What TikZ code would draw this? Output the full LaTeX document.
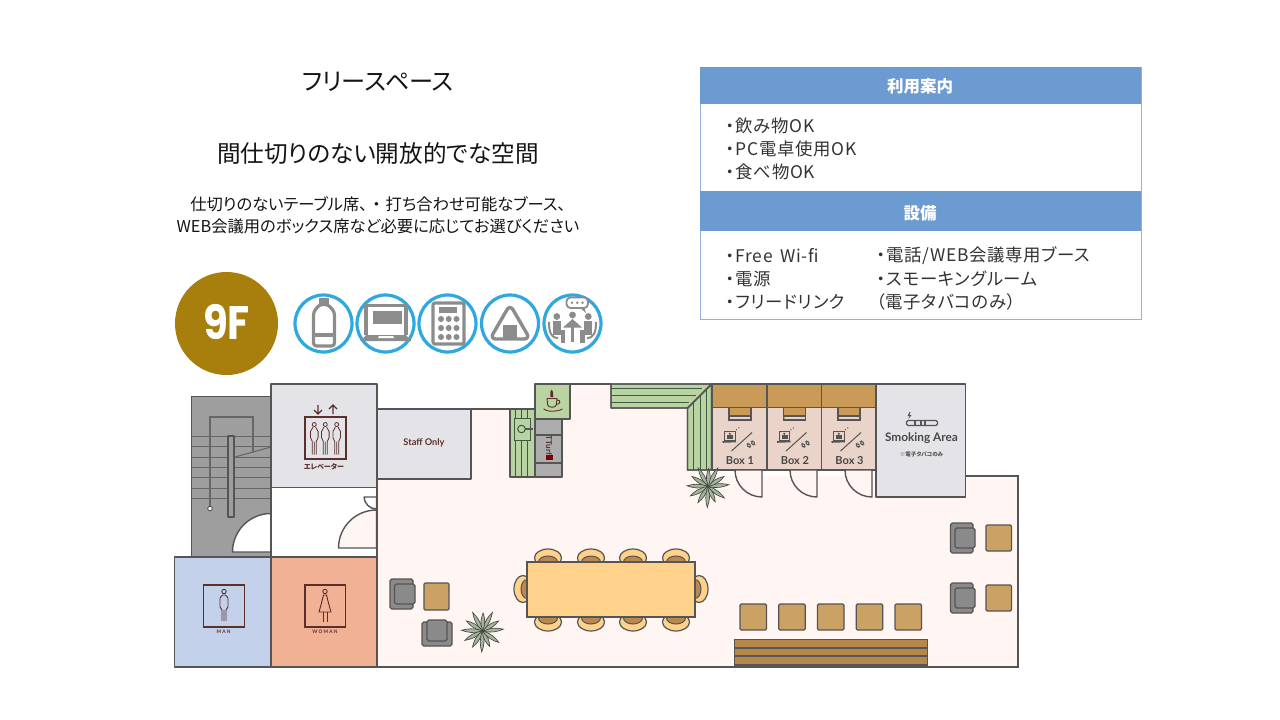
\documentclass[tikz,border=0pt]{standalone}
\usepackage{fontspec}
\setmainfont{Noto Sans CJK JP}
\newfontfamily\jp[RawFeature={+palt}]{Noto Sans CJK JP}
\newfontfamily\jps[RawFeature={+palt},LetterSpace=4]{Noto Sans CJK JP}
\newfontfamily\lat{Lato}
\newfontfamily\latw[LetterSpace=25]{Lato}
\newfontfamily\pop{Poppins}
\newcommand{\fs}[1]{\fontsize{#1}{#1}\selectfont}
\definecolor{wall}{HTML}{555555}
\definecolor{ink}{HTML}{5B2F2B}
\definecolor{floorp}{HTML}{FFF5F2}
\definecolor{greenc}{HTML}{B9D4A2}
\definecolor{greend}{HTML}{3F5B3F}
\definecolor{roomg}{HTML}{E4E4E8}
\definecolor{stairg}{HTML}{9E9E9E}
\definecolor{manb}{HTML}{C3D1EB}
\definecolor{womano}{HTML}{F1B195}
\definecolor{boxp}{HTML}{EAD3C8}
\definecolor{brownt}{HTML}{C99A58}
\definecolor{chairg}{HTML}{8A8A8A}
\definecolor{sqb}{HTML}{CBA264}
\definecolor{tablec}{HTML}{FFD18A}
\definecolor{seatb}{HTML}{B9894F}
\definecolor{benchb}{HTML}{B5874B}
\definecolor{headb}{HTML}{6C9BD2}
\definecolor{frameb}{HTML}{8FB3DC}
\definecolor{gold}{HTML}{A87F0C}
\definecolor{ring}{HTML}{2FA7DF}
\definecolor{icong}{HTML}{8C8C8C}
\definecolor{leafc}{HTML}{A4B59C}
\tikzset{
  wl/.style={draw=wall,line width=1.4pt},
  room/.style={wl,line join=round},
  sqtable/.style={draw=wall,line width=1.2pt,fill=sqb,rounded corners=1.2pt},
  chairout/.style={draw=wall,line width=1.2pt,fill=chairg,rounded corners=1.8pt},
  chairin/.style={draw=wall,line width=1.2pt,fill=chairg,rounded corners=1.8pt},
  seatout/.style={draw=wall,line width=1.2pt,fill=tablec},
  seatin/.style={draw=wall,line width=1pt,fill=seatb},
  gline/.style={draw=greend,line width=.9pt},
  sline/.style={draw=wall!90,line width=.8pt},
  ic/.style={draw=icong,line width=3.2pt,line join=round},
  icf/.style={fill=icong},
  rng/.style={draw=ring,line width=3.2pt,fill=white},
  signb/.style={draw=ink,line width=1.1pt},
  thin/.style={draw=ink,line width=.8pt},
  txt/.style={inner sep=0pt,text=black!92,font=\jp\fs{16.3}},
  info/.style={inner sep=0pt,anchor=west,text=black!80,font=\jps\fs{17.4}},
  head/.style={inner sep=0pt,text=white,font=\jp\fs{16.5}\bfseries},
  lab/.style={inner sep=0pt,text=wall!85!black,font=\lat\bfseries\fs{11}},
  leaf/.style={draw=black!75,line width=.6pt,fill=leafc},
}
\newcommand{\plantat}[2]{%
  \foreach \a/\l in {5/21,32/19,62/21,88/18,118/21,148/19,178/21,208/20,238/19,268/21,295/17,325/20}{
    \begin{scope}[shift={(#1,#2)},rotate=\a]
      \path[leaf] (0,0) .. controls (\l*.4,-3) and (\l*.7,-2) .. (\l,0) .. controls (\l*.7,2) and (\l*.4,3) .. (0,0);
    \end{scope}}}
\newcommand{\elevperson}[2]{%
  \begin{scope}[shift={(#1,#2)}]
    \draw[thin] (0,0) circle (2);
    \draw[thin,line join=round] (-2,30) -- (-2,17) -- (-3.8,13) -- (-3.8,7) -- (-1.3,2.6) (2,30) -- (2,17) -- (3.8,13) -- (3.8,7) -- (1.3,2.6) (0,30) -- (0,17);
  \end{scope}}
\newcommand{\boxicons}[1]{%
  \begin{scope}[shift={(#1,0)}]
    \draw[wall,line width=1pt,fill=boxp] (724.5,431) rectangle (735,440);
    \fill[wall] (727,435) rectangle (733,439);
    \fill[wall] (729.8,433.8) circle (1.2);
    \draw[wall,line width=1.6pt] (722.5,442) -- (736,441.5);
    \draw[wall,line width=1pt,dotted] (736,430) -- (740,427);
    \draw[wall,line width=1pt] (731.5,451) -- (752,432.5);
    \draw[wall,line width=1pt,rounded corners=1.5pt,rotate around={-55:(750,447)}] (746,445.7) rectangle (750,448.3);
    \draw[wall,line width=1pt,rounded corners=1.5pt,rotate around={-55:(753,443)}] (751,441.7) rectangle (755,444.3);
    \draw[wall,line width=1.2pt,fill=brownt] (729,407) -- (729,420) -- (751,420) -- (751,407);
    \draw[wall,line width=1.2pt] (729,416) -- (751,416);
    \fill[boxp] (730,416.8) rectangle (750,419.3);
  \end{scope}}
\begin{document}
\begin{tikzpicture}[x=1pt,y=-1pt]
\useasboundingbox (0,0) rectangle (1280,720);
\fill[white] (0,0) rectangle (1280,720);

% ---- top text
\node[txt,font=\jp\fs{24.2}] (title) at (378,82) {フリースペース};
\node[txt,font=\jp\fs{23.6}] (sub) at (378,153.5) {間仕切りのない開放的でな空間};
\node[txt] (l1) at (378,204) {仕切りのないテーブル席、\kern5pt・\kern5pt打ち合わせ可能なブース、};
\node[txt] (l2) at (378,226.5) {WEB会議用のボックス席など必要に応じてお選びください};

% ---- info table
\draw[frameb,line width=1pt,fill=white] (700,67.5) rectangle (1141,319.5);
\fill[headb] (700,67) rectangle (1141,103.5);
\fill[headb] (700,191) rectangle (1141,231);
\node[head] (h1) at (920,86) {利用案内};
\node[head] (h2) at (920,213) {設備};
\node[info] (a1) at (726,125.5) {・飲み物OK};
\node[info] (a2) at (726,148.5) {・PC電卓使用OK};
\node[info] (a3) at (726,171.5) {・食べ物OK};
\node[info] (b1) at (726,255.5) {・Free\kern3pt{} Wi-fi};
\node[info] (b2) at (726,278.5) {・電源};
\node[info] (b3) at (726,301.5) {・フリードリンク};
\node[info] (c1) at (877,255.5) {・電話/WEB会議専用ブース};
\node[info] (c2) at (877,278.5) {・スモーキングルーム};
\node[info] (c3) at (876,301.5) {（電子タバコのみ）};

% ---- 9F badge
\begin{scope}
  \clip (170,272) rectangle (285,380);
  \fill[gold] (226.5,323.5) circle (51.5);
\end{scope}
\node[inner sep=0pt,text=white,font=\pop\bfseries\fs{47},xscale=.86] (nine) at (226.5,322) {9F};

% ---- service icons
\foreach \cx in {323.5,385.5,447.5,510,572.5} \draw[rng] (\cx,323.5) circle (28.5);
% bottle
\draw[ic,rounded corners=3pt] (313.5,346) -- (313.5,312) -- (319.5,304.5) -- (328,304.5) -- (334.5,312) -- (334.5,346) -- cycle;
\fill[icong] (319,298) rectangle (328.5,304);
\draw[ic] (313,335) -- (335,335);
% laptop
\draw[ic] (366,335) -- (366,305.5) -- (406,305.5) -- (406,335);
\fill[icong] (372.5,310.5) rectangle (401.5,323.5);
\fill[icong] (366,335) -- (406,335) -- (411,341) -- (361,341) -- cycle;
\fill[white] (379,336) -- (393,336) -- (394,338) -- (378,338) -- cycle;
% calculator
\draw[ic,rounded corners=2pt] (433,303) rectangle (464,344);
\fill[icong] (439,307) rectangle (457,313);
\foreach \px in {441,448.7,456.5} \foreach \py in {319,328,337} \fill[icong] (\px,\py) circle (3);
% onigiri
\draw[ic,line width=3.4pt,rounded corners=6pt] (510,304.5) -- (530,339) -- (490,339) -- cycle;
\fill[icong] (503,325) rectangle (517,339);
% meeting
\draw[icong,line width=1.8pt,fill=white,rounded corners=4pt] (566.5,297.5) rectangle (588,308);
\fill[icong] (580,308) -- (586,313) -- (584,307) -- cycle;
\foreach \px in {572,577.3,582.5} \fill[icong] (\px,302.7) circle (1.4);
\foreach \px/\py in {556.8/316.5,572.5/315,588.3/316.5} \fill[icong] (\px,\py) circle (3.4);
\fill[icong] (563,327.5) -- (572.5,319) -- (582,327.5) -- cycle;
\fill[icong] (571.3,327) rectangle (573.7,342);
\fill[icong] (553,321) rectangle (561,332);
\fill[icong] (584,321) rectangle (592,332);
\fill[icong] (553,330) rectangle (565,334.5);
\fill[icong] (580,330) rectangle (592,334.5);
\fill[icong] (560.5,334) rectangle (565,343);
\fill[icong] (580,334) rectangle (584.5,343);
\draw[icong,line width=2pt] (549,322) .. controls (549,332) and (551,338) .. (558,338);
\draw[icong,line width=2pt] (596,322) .. controls (596,332) and (594,338) .. (587,338);

% ---- main floor
\fill[floorp] (377,479) -- (471,479) -- (471,409) -- (535,409) -- (535,384) -- (711,384) -- (711,476) -- (1018,476) -- (1018,667) -- (377,667) -- cycle;
\draw[wl] (471,409) -- (510,409) (535,384) -- (611,384) (965,476) -- (1018,476) -- (1018,667) -- (174.5,667);

% ---- stairs
\draw[room,fill=stairg] (191.5,557) -- (191.5,396.5) -- (271,396.5) -- (271,557);
\foreach \sy in {436.7,446.7,457.3,467.3,477.7,488,498} \draw[sline] (191.5,\sy) -- (271,\sy);
\draw[sline,line width=1.1pt] (210,508) -- (210,417) -- (253,417) -- (253,452);
\draw[sline,line width=1.1pt] (235,457) -- (271,447);
\draw[room,fill=stairg] (228,436) rectangle (234,517);
\draw[wall,line width=.9pt,fill=white] (210,508.5) circle (2.3);
\draw[room,fill=white] (271,513.5) arc[start angle=270,end angle=180,radius=38.5] -- (271,552) -- cycle;

% ---- elevator, staff, lobby, toilets
\draw[room,fill=roomg] (271,384) rectangle (377,487.5);
\draw[room,fill=roomg] (377,409) rectangle (471,479);
\draw[room,fill=white] (271,487.5) rectangle (377,557);
\draw[room,fill=floorp] (376.5,510) arc[start angle=270,end angle=180,radius=38] -- (376.5,548) -- cycle;
\draw[room,fill=white] (364,497) -- (376.5,497) -- (376.5,509) arc[start angle=90,end angle=180,radius=12.5];
\draw[room,fill=manb] (174.5,557) rectangle (271,667);
\draw[room,fill=womano] (271,557) rectangle (377,667);

% elevator sign
\draw[signb] (305,417) rectangle (346,459);
\elevperson{314.3}{424.5}
\elevperson{325.3}{424.5}
\elevperson{336.7}{424.5}
\draw[signb] (318,405) -- (318,414) (314,410) -- (318,414) -- (322,410);
\draw[signb] (333,405) -- (333,414) (329,409) -- (333,405) -- (337,409);
\node[inner sep=0pt,text=ink,font=\jp\bfseries\fs{7}] (elev) at (324,467) {エレベーター};
\node[inner sep=0pt,text=ink,font=\lat\bfseries\fs{9.2}] (staff) at (424,443) {Staff Only};

% man sign
\draw[signb] (203.5,585) rectangle (244.5,627);
\draw[thin,line width=.9pt] (224,591.5) circle (2.2);
\draw[thin,line width=.9pt,line join=round] (222,621) -- (222,610) -- (220,607) -- (220,598) -- (222.5,595) -- (225.5,595) -- (228,598) -- (228,607) -- (226,610) -- (226,621) (224,621) -- (224,610);
\node[inner sep=0pt,text=ink,font=\latw\bfseries\fs{4.8}] (man) at (223.5,631.5) {MAN};
% woman sign
\draw[signb] (305,585) rectangle (345.5,627);
\draw[thin,line width=.9pt] (325,591.5) circle (2.2);
\draw[thin,line width=.9pt,line join=round] (323.5,595) -- (326.5,595) -- (328.5,603) -- (331,612) -- (319,612) -- (321.5,603) -- cycle;
\draw[thin,line width=.9pt] (323,612) -- (323,621.5) (327,612) -- (327,621.5);
\node[inner sep=0pt,text=ink,font=\latw\bfseries\fs{4.8}] (woman) at (325,631.5) {WOMAN};

% ---- counters
\draw[room,fill=greenc] (510,409) rectangle (534.5,477);
\foreach \gx in {515,521,527} \draw[gline] (\gx,409) -- (\gx,477);
\draw[greend,line width=1pt,fill=greenc] (514,418) rectangle (530,440);
\draw[greend,line width=1pt,fill=greenc] (521.5,429) circle (3.8);
\fill[wall] (525,427.5) rectangle (533,430);
\draw[room,fill=stairg!85!white] (535,419) rectangle (562,477);
\draw[wl] (535,435) -- (562,435) (535,463) -- (562,463);
\node[inner sep=0pt,rotate=-90,text=ink,font=\lat\bfseries\fs{8}] (mach) at (549,445.5) {TTurf};
\fill[red!50!black] (545.7,454.5) rectangle (552.5,459.5);
\draw[room,fill=greenc] (535,384) rectangle (570,419);
% cup
\draw[ink,line width=.9pt] (547,398.5) -- (557,398.5) -- (556.3,405) .. controls (555.5,408) and (548.5,408) .. (547.7,405) -- cycle;
\draw[ink,line width=.9pt] (556.8,400) .. controls (561,399.5) and (561,404.5) .. (556,404.5);
\draw[ink,line width=.9pt] (543.5,409) .. controls (547,412) and (557,412) .. (562.5,409);
\fill[ink] (550.5,397) -- (550.3,392) -- (551.7,389.5) -- (553,392) -- (553.3,397) -- cycle;
% L counter
\draw[room,fill=greenc] (611,384) -- (711.5,384) -- (687.5,408) -- (611,408) -- cycle;
\foreach \gy in {388.7,395.3,402} \draw[gline] (611,\gy) -- (707-\gy+384,\gy);
\draw[room,fill=greenc] (687.5,408) -- (711.5,384) -- (711.5,470) -- (687.5,470) -- cycle;
\draw[gline] (693.5,470) -- (693.5,402) (700,470) -- (700,395.5) (706.5,470) -- (706.5,389);
\draw[room] (611,384) -- (711.5,384) -- (687.5,408) -- (611,408) -- cycle;
\draw[room] (687.5,408) -- (711.5,384) -- (711.5,470) -- (687.5,470) -- cycle;

% ---- boxes
\draw[room,fill=boxp] (712,384) rectangle (767,470);
\draw[room,fill=boxp] (767,384) rectangle (821.5,470);
\draw[room,fill=boxp] (821.5,384) rectangle (876,470);
\boxicons{0}
\boxicons{54.5}
\boxicons{109}
\foreach \bx in {712,767,821.5} \draw[room,fill=brownt] (\bx,384) rectangle ++(54.7,23.5);
\node[lab] (box1) at (740,460.5) {Box 1};
\node[lab] (box2) at (795,460.5) {Box 2};
\node[lab] (box3) at (849.5,460.5) {Box 3};
\foreach \dx in {762,817,872}
  \draw[room,fill=floorp] (\dx,470) -- (\dx,497) arc[start angle=90,end angle=180,radius=27] -- cycle;
\draw[room,fill=roomg] (876,384) rectangle (965.5,497);
% e-cig
\draw[wall,line width=1.1pt,rounded corners=1.5pt] (906.5,420.5) rectangle (937.5,425.5);
\draw[wall,line width=1.1pt] (915,420.5) -- (915,425.5) (921,420.5) -- (921,425.5) (925,420.5) -- (925,425.5);
\fill[wall] (909.5,412) -- (907.5,416) -- (909.5,416) -- (908.5,419) -- (911.5,415) -- (909.5,415) -- (910.5,412) -- cycle;
\node[lab,font=\lat\bfseries\fs{11.8}] (smoke) at (921.5,438) {Smoking Area};
\node[inner sep=0pt,text=wall,font=\jp\bfseries\fs{5.5}] (note) at (921.5,454) {※電子タバコのみ};

% ---- plants
\plantat{708}{486.5}
\plantat{482.5}{631}

% ---- furniture: long table
\foreach \sx in {548,591,633,676} {
  \draw[seatout] (\sx,558) ellipse (13.5 and 9);
  \draw[seatin] (\sx,562) ellipse (9.5 and 6);
  \draw[seatout] (\sx,622) ellipse (13.5 and 9);
  \draw[seatin] (\sx,618) ellipse (9.5 and 6);
}
\draw[seatout] (523,589) ellipse (9 and 13.5);
\draw[seatin] (527,589) ellipse (6 and 9.5);
\draw[seatout] (699,589) ellipse (9 and 13.5);
\draw[seatin] (695,589) ellipse (6 and 9.5);
\draw[draw=wall,line width=1.3pt,fill=tablec] (527,562) rectangle (695,617);

% small tables and chairs
\draw[chairout] (390,579) rectangle (413,609);
\draw[chairin] (394.5,584) rectangle (415,604);
\draw[sqtable] (424,583) rectangle (449,610);
\draw[chairout] (422,622) rectangle (452,646);
\draw[chairin] (427,620) rectangle (447,641);
\foreach \qx in {740,778.7,817.5,856.3,895} \draw[sqtable] (\qx,604) rectangle ++(26.5,26);
\draw[draw=wall,line width=1.1pt,fill=benchb] (734.5,639.5) rectangle (927.5,665);
\draw[wall,line width=1.1pt] (734.5,648) -- (927.5,648) (734.5,656) -- (927.5,656);
\foreach \cy in {0,60} {
  \draw[chairout] (950.5,523+\cy) rectangle (973,553+\cy);
  \draw[chairin] (955,528+\cy) rectangle (975,548+\cy);
  \draw[sqtable] (986,525+\cy) rectangle (1011.5,551+\cy);
}
\end{tikzpicture}
\end{document}
